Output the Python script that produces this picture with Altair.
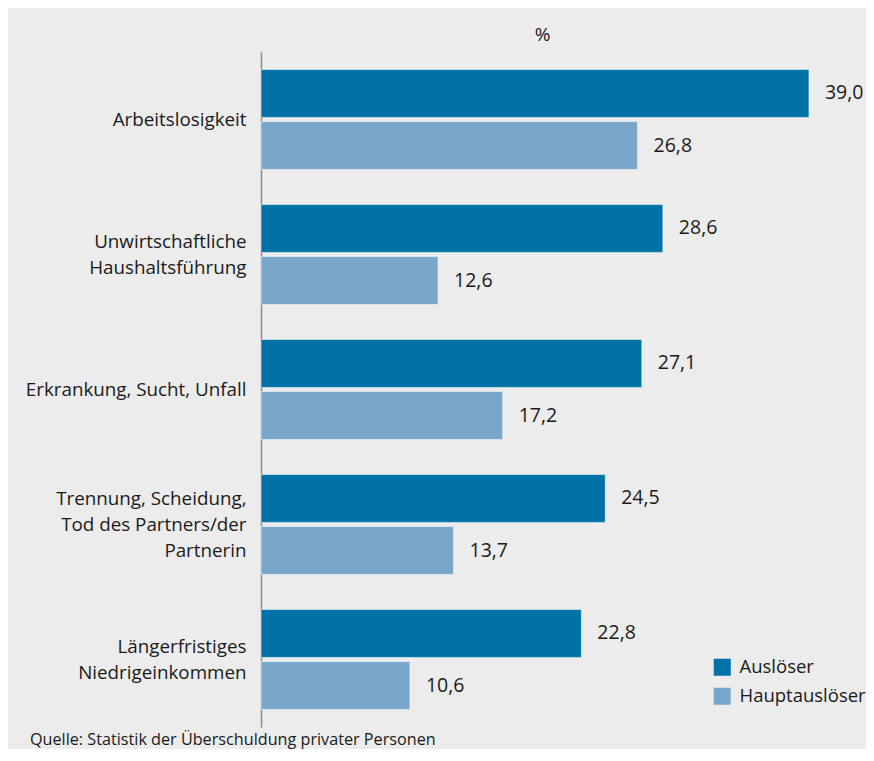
import altair as alt
import pandas as pd

categories = [
    "Arbeitslosigkeit",
    "Unwirtschaftliche|Haushaltsführung",
    "Erkrankung, Sucht, Unfall",
    "Trennung, Scheidung,|Tod des Partners/der|Partnerin",
    "Längerfristiges|Niedrigeinkommen",
]
series = ["Auslöser", "Hauptauslöser"]
ausloeser = [39.0, 28.6, 27.1, 24.5, 22.8]
hauptausloeser = [26.8, 12.6, 17.2, 13.7, 10.6]
colors = ["#0072a6", "#79a6cb"]

rows = []
for c, a, h in zip(categories, ausloeser, hauptausloeser):
    rows.append({"cat": c, "series": series[0], "value": a})
    rows.append({"cat": c, "series": series[1], "value": h})
df = pd.DataFrame(rows)

FONT = "Open Sans"
TXT = "#1a1a1a"
LINE_H = 26

y_enc = alt.Y(
    "cat:N",
    sort=categories,
    title=None,
    scale=alt.Scale(paddingInner=0.26, paddingOuter=0.13),
    axis=alt.Axis(
        labelExpr="split(datum.label, '|')",
        labelFont=FONT,
        labelFontSize=18.8,
        labelLineHeight=LINE_H,
        labelColor=TXT,
        labelPadding=15,
        labelLimit=300,
        labelOffset={
            "condition": [
                {"test": "length(split(datum.value, '|')) == 3", "value": -LINE_H},
                {"test": "length(split(datum.value, '|')) == 2", "value": -LINE_H / 2},
            ],
            "value": 0,
        },
        ticks=False,
        domainColor="#8c8c8c",
        domainWidth=1.5,
        grid=False,
    ),
)
yoff_enc = alt.YOffset(
    "series:N", sort=series, scale=alt.Scale(paddingInner=0.08, paddingOuter=0)
)
x_enc = alt.X(
    "value:Q",
    scale=alt.Scale(domain=[0, 40], nice=False),
    axis=alt.Axis(
        orient="top",
        title="%",
        titleFont=FONT,
        titleFontSize=19,
        titleFontWeight="normal",
        titleColor=TXT,
        titlePadding=8,
        labels=False,
        ticks=False,
        domain=False,
        grid=False,
    ),
)

bars = alt.Chart(df).mark_bar(
    stroke="white", strokeOpacity=0.5, strokeWidth=1
).encode(
    y=y_enc,
    yOffset=yoff_enc,
    x=x_enc,
    color=alt.Color(
        "series:N",
        sort=series,
        scale=alt.Scale(domain=series, range=colors),
        legend=alt.Legend(
            title=None,
            orient="none",
            legendX=452,
            legendY=606,
            symbolType="square",
            symbolSize=289,
            symbolStrokeWidth=0,
            labelFont=FONT,
            labelFontSize=18.5,
            labelColor=TXT,
            labelOffset=8,
            rowPadding=10,
        ),
    ),
)

labels = alt.Chart(df).transform_calculate(
    lab="replace(format(datum.value, '.1f'), '.', ',')"
).mark_text(
    align="left", baseline="middle", dx=16, font=FONT, fontSize=19.5, color=TXT
).encode(
    y=alt.Y("cat:N", sort=categories),
    yOffset=alt.YOffset("series:N", sort=series),
    x="value:Q",
    text="lab:N",
)

chart = alt.layer(bars, labels).properties(
    width=562,
    height=675,
    autosize=alt.AutoSizeParams(type="none"),
    padding={"left": 253, "top": 44, "right": 43, "bottom": 22},
    title=alt.TitleParams(
        "Quelle: Statistik der Überschuldung privater Personen",
        orient="bottom",
        anchor="start",
        frame="group",
        dx=-231,
        offset=5,
        font=FONT,
        fontSize=16.2,
        fontWeight="normal",
        color=TXT,
    ),
).configure(background="#ececec").configure_view(stroke=None)

chart.save("out.html", embed_options={"renderer": "svg", "actions": False})
